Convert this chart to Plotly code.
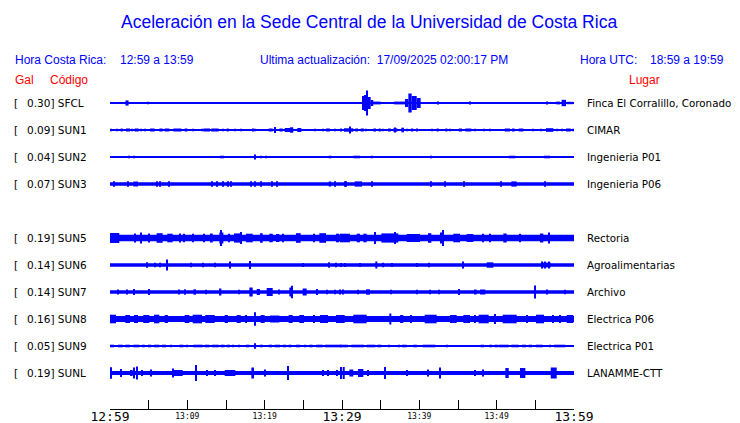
import plotly.graph_objects as go

# ---------------- data ----------------
codes = ["SFCL", "SUN1", "SUN2", "SUN3", "SUN5", "SUN6", "SUN7", "SUN8", "SUN9", "SUNL"]
peak_gal = [0.30, 0.09, 0.04, 0.07, 0.19, 0.14, 0.14, 0.16, 0.05, 0.19]
places = ["Finca El Corralillo, Coronado", "CIMAR", "Ingenieria P01", "Ingenieria P06",
          "Rectoria", "Agroalimentarias", "Archivo", "Electrica P06", "Electrica P01",
          "LANAMME-CTT"]
slot = [0, 1, 2, 3, 5, 6, 7, 8, 9, 10]          # row of each trace (row 4 = SUN4, no data)
noise_amp = [0.5, 0.6, 0.5, 1.8, 3.3, 1.7, 1.7, 3.1, 0.5, 2.0]   # background half-amplitude

# bursts: (start minute, end minute, half-amplitude), minutes after 12:59
ev_sfcl = [(1.1, 1.4, 1.0), (2.0, 2.4, 2.6), (4.95, 4.95, 1.3), (17.0, 17.0, 1.0), (20.6, 20.6, 1.0),
           (22.2, 22.2, 1.0), (25.4, 25.4, 1.0), (32.63, 32.84, 7.0), (32.84, 33.19, 8.0),
           (33.19, 33.36, 12.5), (33.36, 33.71, 6.0), (33.71, 34.05, 3.0), (34.05, 35.0, 1.4),
           (36.73, 38.15, 1.4), (38.15, 38.58, 4.0), (38.58, 39.01, 9.5), (39.01, 39.66, 7.0),
           (39.66, 40.17, 5.0), (42.46, 42.46, 1.5), (46.55, 46.55, 1.5), (48.7, 48.7, 1.0),
           (56.55, 56.55, 1.5), (57.24, 57.24, 1.0), (57.7, 58.2, 1.4), (58.4, 58.97, 3.2),
           (59.05, 59.9, 1.2)]
ev_sun1 = [(0.09, 0.09, 1.3), (0.95, 0.95, 1.3), (1.38, 1.64, 1.5), (2.07, 2.59, 1.5), (2.84, 2.84, 1.3),
           (3.19, 3.71, 1.5), (3.97, 3.97, 1.3), (4.48, 4.48, 1.3), (5.17, 5.78, 1.5), (6.38, 6.81, 1.5),
           (7.07, 7.67, 1.5), (8.19, 9.23, 1.5), (9.66, 10.0, 1.5), (10.69, 10.69, 1.3), (11.9, 11.9, 1.3),
           (12.07, 12.93, 1.5), (13.1, 14.05, 1.5), (14.57, 14.57, 1.3), (15.09, 15.35, 1.5),
           (16.12, 16.12, 1.3), (16.9, 16.9, 1.3), (18.36, 18.62, 1.5), (18.79, 18.79, 1.3),
           (20.52, 21.04, 1.5), (21.3, 21.3, 3.0), (21.9, 22.33, 1.5), (22.59, 23.28, 2.0),
           (23.28, 23.7, 2.7), (24.22, 24.74, 2.0), (26.55, 26.55, 1.3), (27.58, 27.58, 1.3),
           (27.93, 28.45, 1.5), (29.05, 29.05, 1.3), (29.74, 30.0, 1.5), (30.35, 30.35, 1.3),
           (30.26, 31.46, 1.7), (31.03, 31.03, 3.5), (31.72, 32.07, 1.5), (32.42, 32.84, 1.5),
           (33.1, 33.1, 1.3), (34.05, 34.4, 1.5), (34.74, 35.0, 1.5), (35.35, 35.35, 1.3),
           (35.95, 36.3, 1.5), (36.64, 37.15, 1.7), (36.9, 36.9, 2.5), (37.67, 38.02, 2.3),
           (38.45, 38.45, 1.3), (38.97, 39.22, 1.5), (39.57, 39.83, 1.5), (41.64, 41.64, 1.3),
           (42.24, 42.5, 1.5), (43.36, 43.62, 1.5), (43.97, 43.97, 1.3), (45.09, 45.52, 1.5),
           (45.95, 46.72, 1.5), (47.16, 47.16, 1.3), (48.36, 48.36, 1.3), (49.14, 49.14, 1.3),
           (51.04, 51.73, 1.5), (51.98, 52.33, 1.5), (52.85, 53.45, 1.5), (54.74, 54.74, 1.3),
           (55.7, 55.7, 1.3), (56.38, 57.33, 1.8), (57.85, 57.85, 1.3), (58.45, 58.45, 1.3),
           (58.97, 59.58, 1.5), (59.91, 59.91, 1.3)]
ev_sun2 = [(2.33, 2.59, 1.3), (3.02, 3.19, 1.3), (4.14, 4.14, 1.0), (5.95, 5.95, 1.0), (7.24, 7.24, 1.0),
           (8.97, 8.97, 1.0), (11.55, 11.55, 1.0), (12.67, 12.67, 1.0), (14.22, 14.74, 1.3),
           (18.79, 18.79, 2.6), (19.48, 19.48, 1.3), (20.09, 20.26, 1.3), (28.28, 28.62, 1.3),
           (29.14, 29.14, 1.0), (29.57, 29.57, 1.0), (30.69, 30.69, 1.0), (31.46, 32.33, 1.3),
           (32.59, 32.59, 1.0), (33.71, 33.97, 1.3), (41.38, 41.64, 1.3), (51.56, 52.41, 1.3),
           (53.02, 53.02, 1.0), (54.31, 54.31, 1.0), (55.0, 55.0, 1.0), (56.12, 56.9, 1.3),
           (59.91, 59.91, 1.0)]
ev_sun3 = [(0.52, 0.52, 2.7), (2.33, 2.33, 2.7), (3.02, 3.62, 2.5), (6.12, 6.12, 2.7), (6.47, 6.47, 2.7),
           (7.67, 7.67, 2.7), (13.19, 13.19, 2.7), (13.88, 13.88, 2.7), (14.57, 14.57, 2.7),
           (15.26, 15.26, 2.7), (15.69, 15.69, 2.7), (18.28, 18.28, 2.7), (18.79, 18.79, 2.7),
           (19.57, 19.57, 2.7), (20.95, 20.95, 2.7), (21.55, 21.55, 2.7), (28.28, 28.62, 2.5),
           (29.14, 29.14, 2.7), (30.35, 30.35, 2.7), (30.52, 30.52, 2.7), (31.64, 32.59, 2.6),
           (33.88, 33.88, 2.7), (41.55, 41.55, 2.7), (43.36, 43.36, 2.7), (45.78, 45.78, 2.7),
           (50.6, 50.6, 2.7), (51.9, 52.59, 2.6), (56.21, 56.21, 2.7)]
ev_sun5 = [(0.0, 1.2, 5.0), (3.28, 3.28, 4.5), (4.05, 4.05, 5.5), (5.09, 5.09, 4.5), (6.03, 6.81, 4.8),
           (7.41, 8.1, 4.3), (9.05, 9.05, 4.5), (9.57, 9.57, 4.2), (10.69, 10.69, 4.2), (12.16, 12.16, 4.2),
           (12.93, 13.28, 4.5), (14.14, 14.66, 5.5), (14.31, 14.31, 8.0), (15.43, 15.43, 4.2),
           (16.04, 16.9, 4.6), (16.9, 16.9, 6.0), (17.59, 18.45, 4.3), (19.4, 19.74, 4.8),
           (20.6, 21.04, 4.3), (21.47, 21.9, 4.0), (22.33, 22.33, 4.2), (24.05, 24.66, 4.8),
           (26.38, 26.38, 4.2), (27.07, 27.93, 4.8), (29.22, 29.65, 4.3), (29.74, 31.03, 4.3),
           (31.9, 32.33, 4.3), (32.76, 33.19, 4.3), (34.22, 34.22, 6.0), (35.09, 37.28, 4.6),
           (36.9, 36.9, 6.0), (38.37, 40.09, 4.0), (41.12, 41.55, 4.8), (42.67, 43.19, 5.5),
           (43.02, 43.02, 8.0), (44.4, 45.26, 4.3), (46.12, 46.98, 4.0), (48.28, 48.28, 4.2),
           (49.14, 49.14, 4.2), (50.86, 51.3, 4.5), (53.02, 53.02, 4.2), (55.6, 56.03, 4.5),
           (56.81, 56.81, 5.5)]
ev_sun6 = [(4.83, 4.83, 2.7), (5.78, 5.78, 2.2), (6.47, 6.47, 2.2), (7.41, 7.41, 5.5), (10.52, 10.52, 2.2),
           (11.98, 11.98, 2.2), (13.62, 13.62, 2.2), (15.43, 15.6, 3.5), (18.1, 18.1, 4.0), (25.0, 25.0, 2.0),
           (28.28, 28.45, 2.7), (29.22, 29.22, 2.2), (29.83, 29.83, 2.0), (30.35, 30.35, 2.0),
           (32.33, 32.33, 2.0), (34.31, 34.57, 3.5), (35.35, 35.35, 2.2), (36.47, 36.47, 2.0),
           (39.66, 39.66, 2.0), (41.29, 41.29, 2.2), (45.6, 45.78, 3.5), (48.71, 49.57, 2.7),
           (55.86, 56.99, 2.4), (55.9, 55.9, 3.5), (56.2, 56.2, 3.5), (56.81, 56.81, 3.5)]
ev_sun7 = [(1.03, 1.03, 2.5), (2.24, 2.24, 2.5), (3.1, 3.1, 3.0), (5.0, 5.0, 3.0), (8.88, 8.88, 2.5),
           (9.57, 9.83, 2.7), (10.78, 11.12, 2.7), (12.41, 12.41, 2.2), (14.22, 14.4, 3.5),
           (16.64, 16.64, 2.2), (18.02, 18.45, 4.5), (18.97, 19.4, 3.0), (20.26, 21.04, 4.0),
           (21.9, 21.9, 2.5), (23.19, 23.62, 4.5), (23.54, 23.54, 6.3), (24.91, 25.43, 3.5),
           (26.72, 26.72, 3.0), (28.02, 28.02, 2.2), (29.05, 29.05, 2.2), (30.17, 30.17, 2.5),
           (29.74, 29.74, 2.5), (32.07, 32.07, 2.2), (33.1, 33.62, 2.7), (36.38, 36.38, 2.2),
           (39.74, 39.74, 2.2), (41.38, 41.38, 2.2), (42.59, 42.59, 2.2), (45.0, 45.17, 3.0),
           (47.16, 47.41, 2.5), (47.85, 48.54, 2.5), (55.0, 55.0, 6.5), (56.55, 56.55, 2.5),
           (58.8, 58.8, 2.2)]
ev_sun8 = [(0.0, 0.78, 4.3), (1.98, 2.59, 4.0), (3.1, 3.62, 4.0), (4.31, 5.09, 4.0), (5.69, 6.38, 4.3),
           (7.07, 7.5, 4.0), (9.66, 10.26, 4.0), (10.69, 11.9, 4.3), (12.33, 13.54, 4.0), (14.83, 15.26, 4.0),
           (16.38, 16.9, 4.0), (17.59, 17.59, 4.0), (18.79, 18.79, 6.7), (19.48, 20.0, 4.0),
           (20.69, 21.9, 3.5), (23.1, 23.62, 4.0), (24.48, 25.09, 4.0), (26.38, 26.38, 4.0),
           (27.16, 28.19, 4.0), (29.22, 30.35, 4.0), (31.46, 33.19, 4.3), (36.12, 36.38, 5.5),
           (37.5, 37.93, 4.0), (38.97, 38.97, 4.0), (40.69, 42.24, 4.3), (43.97, 44.83, 4.0),
           (45.69, 46.55, 4.0), (47.16, 47.16, 4.0), (47.67, 48.97, 4.3), (49.83, 49.83, 5.0),
           (50.78, 52.59, 4.3), (53.88, 53.88, 4.0), (55.09, 56.12, 4.3), (57.33, 57.33, 4.0),
           (58.19, 58.19, 4.0), (59.05, 59.91, 4.0)]
ev_sun9 = [(0.0, 0.52, 1.3), (1.03, 1.64, 1.3), (1.98, 2.59, 1.3), (3.02, 3.79, 1.3), (4.14, 4.48, 1.3),
           (4.91, 5.34, 1.3), (5.69, 6.38, 1.3), (6.72, 7.24, 1.3), (7.93, 7.93, 1.3), (8.97, 9.48, 1.3),
           (10.0, 10.0, 1.3), (10.78, 11.98, 1.3), (12.24, 12.84, 1.3), (13.19, 14.05, 1.3),
           (14.31, 14.83, 1.3), (15.09, 15.52, 1.3), (15.95, 15.95, 1.3), (16.72, 16.72, 1.3),
           (17.59, 18.02, 1.3), (18.79, 18.79, 2.7), (19.4, 19.74, 1.3), (20.52, 20.95, 1.3),
           (21.3, 21.98, 1.3), (22.33, 22.76, 1.3), (23.1, 23.45, 1.3), (24.05, 24.57, 1.3),
           (25.17, 25.17, 1.3), (25.78, 26.21, 1.3), (26.64, 27.5, 1.3), (27.76, 29.91, 1.3),
           (29.74, 30.78, 1.3), (31.2, 32.84, 1.3), (33.19, 34.31, 1.3), (34.57, 35.09, 1.3),
           (36.04, 36.04, 1.3), (37.41, 37.41, 1.3), (37.76, 38.37, 1.3), (39.23, 39.66, 1.3),
           (40.43, 42.07, 1.3), (43.54, 43.54, 1.3), (47.93, 48.36, 1.3), (49.05, 49.4, 1.3),
           (49.74, 50.17, 1.3), (50.26, 51.56, 1.3), (51.9, 52.85, 1.3), (53.28, 53.8, 1.3),
           (54.14, 54.57, 1.3), (55.09, 55.95, 1.3), (56.9, 56.9, 1.3), (57.42, 58.88, 1.3)]
ev_sunl = [(0.17, 0.17, 5.7), (1.47, 1.47, 4.0), (2.59, 2.93, 3.0), (3.1, 3.1, 5.5), (3.53, 3.53, 6.5),
           (4.14, 4.14, 3.0), (5.34, 5.34, 3.5), (8.1, 8.1, 4.5), (8.28, 9.4, 3.0), (11.12, 11.12, 8.0),
           (12.5, 12.5, 3.0), (13.54, 13.54, 3.0), (14.83, 16.21, 3.0), (18.28, 18.62, 5.5),
           (19.91, 20.17, 3.5), (23.02, 23.02, 7.0), (27.5, 27.5, 3.0), (28.19, 28.19, 3.0),
           (29.4, 29.4, 3.0), (30.09, 30.35, 6.0), (29.74, 30.0, 6.0), (30.95, 31.46, 3.5),
           (32.07, 32.76, 4.0), (33.36, 33.36, 3.0), (35.52, 35.52, 6.0), (38.37, 38.37, 3.0),
           (41.12, 41.12, 3.5), (42.59, 42.76, 5.5), (47.24, 47.24, 3.0), (48.28, 48.28, 3.5),
           (51.12, 51.56, 5.0), (53.02, 53.71, 5.0), (56.99, 57.76, 5.5)]
events = [ev_sfcl, ev_sun1, ev_sun2, ev_sun3, ev_sun5, ev_sun6, ev_sun7, ev_sun8, ev_sun9, ev_sunl]

window_minutes = 60
tick_step = 5
major_minutes = [0, 30, 60]
major_labels = ["12:59", "13:29", "13:59"]
minor_minutes = [10, 20, 40, 50]
minor_labels = ["13:09", "13:19", "13:39", "13:49"]

title_text = "Aceleración en la Sede Central de la Universidad de Costa Rica"
local_time = "12:59 a 13:59"
utc_time = "18:59 a 19:59"
updated = "17/09/2025 02:00:17 PM"

# ---------------- layout constants ----------------
PAGE_OFF = 8                 # browser body margin
W, H = 740 - PAGE_OFF, 423 - PAGE_OFF
PLOT_X0, PLOT_X1, PLOT_Y0, PLOT_Y1 = 110, 574, 76, 409   # plot area in window pixels
L, T = PLOT_X0 - PAGE_OFF, PLOT_Y0 - PAGE_OFF
R, B = W - (PLOT_X1 - PAGE_OFF), H - (PLOT_Y1 - PAGE_OFF)
AMP_PER_ROW = 27.0           # amplitude units per trace row
Y_TOP, Y_BOT = -1.0, 11.333
BLUE = "#0000ff"
RED = "#ff0000"
MIN_W = 0.13                 # narrowest burst drawn (minutes)
TXT_PAD = 2                  # annotation inner padding (px)


def paper_x(px):
    return (px - PLOT_X0) / (PLOT_X1 - PLOT_X0)


def paper_y(py):
    return (PLOT_Y1 - py) / (PLOT_Y1 - PLOT_Y0)


fig = go.Figure()

for k, code in enumerate(codes):
    s = slot[k]
    n = noise_amp[k] / AMP_PER_ROW
    xs, ws, bs, hs = [window_minutes / 2], [window_minutes], [s - n], [2 * n]
    for t0, t1, a in events[k]:
        aa = a / AMP_PER_ROW
        xs.append((t0 + t1) / 2)
        ws.append(max(t1 - t0, MIN_W))
        bs.append(s - aa)
        hs.append(2 * aa)
    fig.add_trace(go.Bar(x=xs, y=hs, base=bs, width=ws, marker=dict(color=BLUE, line=dict(width=0)),
                         showlegend=False, hoverinfo="skip", xaxis="x", yaxis="y"))

# helper trace for the secondary (minor label) time axis
fig.add_trace(go.Scatter(x=[0, window_minutes], y=[Y_TOP, Y_TOP], mode="lines", line=dict(width=0),
                         showlegend=False, hoverinfo="skip", xaxis="x2", yaxis="y"))

tickvals = list(range(0, window_minutes + 1, tick_step))
ticktext = [major_labels[major_minutes.index(v)] if v in major_minutes else "" for v in tickvals]

fig.update_layout(
    width=W, height=H,
    margin=dict(l=L, r=R, t=T, b=B, autoexpand=False),
    paper_bgcolor="white", plot_bgcolor="white",
    barmode="overlay", showlegend=False,
    xaxis=dict(range=[0, window_minutes], tickvals=tickvals, ticktext=ticktext,
               ticks="inside", ticklen=9, tickwidth=1, tickcolor="black",
               showline=True, linecolor="black", linewidth=1, showgrid=False, zeroline=False,
               tickfont=dict(family="DejaVu Sans Mono", size=13, color="black"), automargin=False,
               ticklabelstandoff=-5, fixedrange=True),
    xaxis2=dict(range=[0, window_minutes], overlaying="x", anchor="y", side="bottom",
                tickvals=minor_minutes, ticktext=minor_labels, ticks="", showline=False,
                showgrid=False, zeroline=False, automargin=False, fixedrange=True,
                ticklabelstandoff=1,
                tickfont=dict(family="DejaVu Sans Mono", size=8, color="black")),
    yaxis=dict(range=[Y_BOT, Y_TOP], visible=False, fixedrange=True),
)

ann = []


def text(px, py, s, color=BLUE, size=12, family="Liberation Sans", anchor="left", yref_data=None):
    if anchor == "left":
        px -= TXT_PAD
    ann.append(dict(x=paper_x(px), y=paper_y(py) if yref_data is None else yref_data,
                    xref="paper", yref="paper" if yref_data is None else "y",
                    text=s, showarrow=False, xanchor=anchor, yanchor="middle",
                    font=dict(family=family, size=size, color=color)))


text(369, 22, title_text, size=17.5, anchor="center")
text(15, 60, "Hora Costa Rica:")
text(120, 60, local_time)
text(260, 60, "Ultima actualización:  " + updated)
text(580, 60, "Hora UTC:")
text(650, 60, utc_time)
text(15, 80, "Gal", color=RED)
text(50, 80, "Código", color=RED)
text(629, 80, "Lugar", color=RED)

for k, code in enumerate(codes):
    text(14, 0, "[", color="black", size=10.5, family="DejaVu Sans", yref_data=slot[k])
    text(27, 0, f"{peak_gal[k]:.2f}] {code}", color="black", size=10.5, family="DejaVu Sans",
         yref_data=slot[k])
    text(587, 0, places[k], color="black", size=10.3, family="DejaVu Sans", yref_data=slot[k])

fig.update_layout(annotations=ann)
fig.write_html("out.html")
